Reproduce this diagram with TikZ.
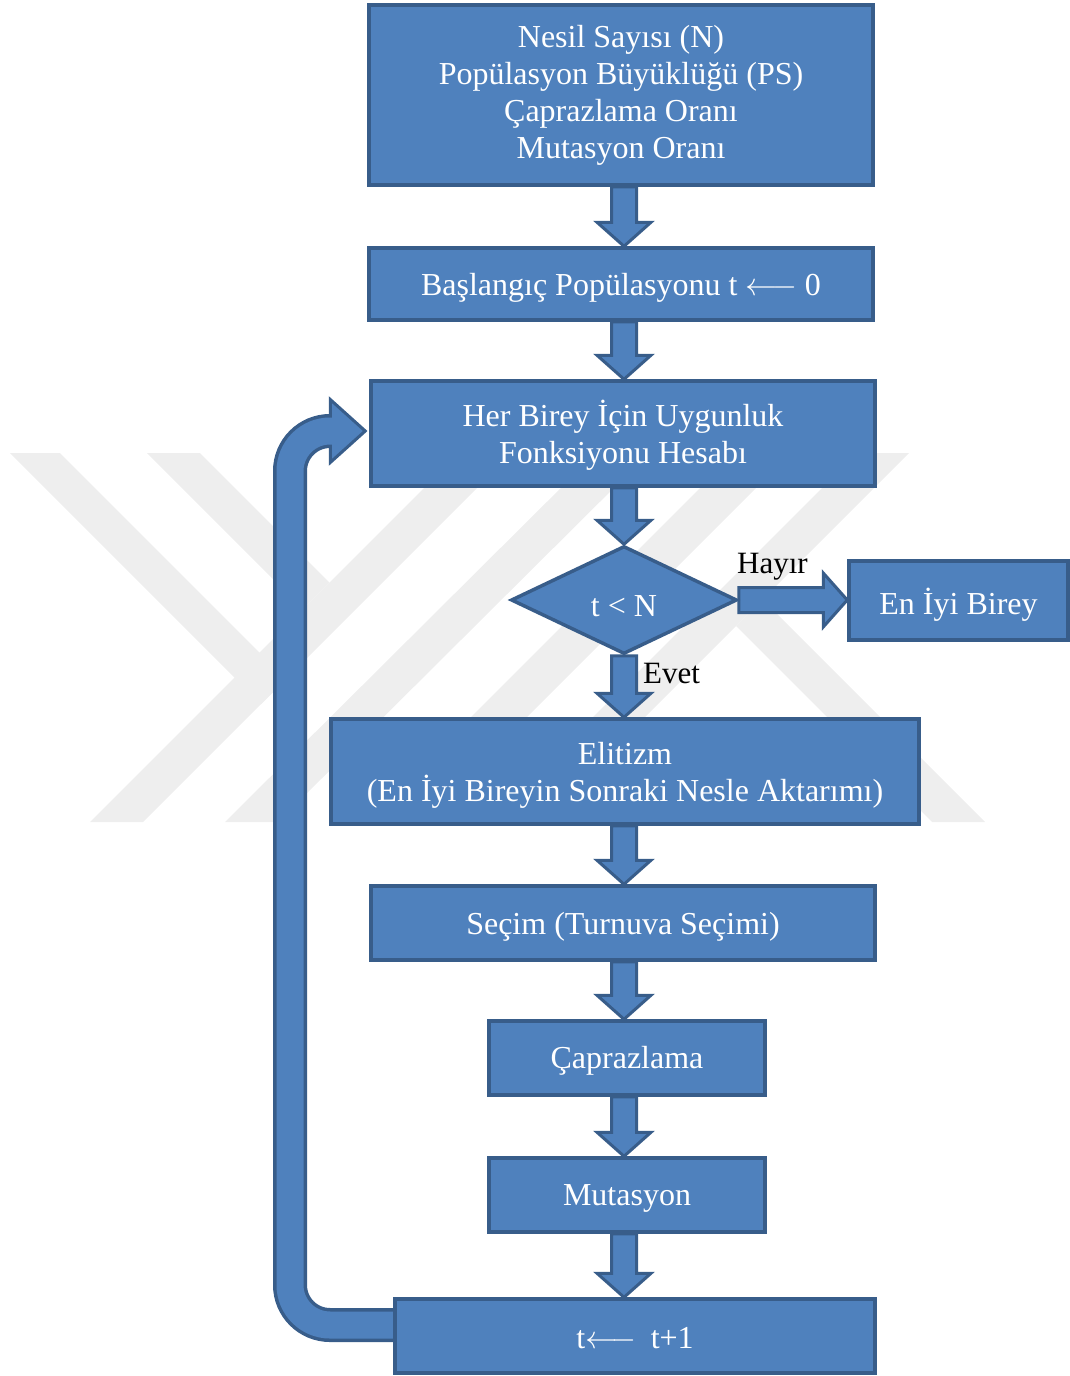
\RequirePackage{fix-cm}
\documentclass[tikz,border=0pt]{standalone}
\usepackage{fontspec}
\setmainfont{Liberation Serif}
\usetikzlibrary{shapes.geometric,calc}
\definecolor{boxfill}{RGB}{79,129,189}
\definecolor{boxline}{RGB}{56,93,138}
\definecolor{wmgray}{RGB}{238,238,238}
\pgfdeclarelayer{wm}
\pgfdeclarelayer{bg}
\pgfsetlayers{wm,bg,main}
\newcommand\dn[2][4pt]{\raisebox{-#1}[\height][\depth]{#2}}
\newcommand\downblk[2]{%
  \draw[blk] let \p1=(#1), \p2=(#2), \p3=(col) in
    (\x3-12.5pt,\y1) -- (\x3-12.5pt,\y2+24pt) -- (\x3-27pt,\y2+24pt) -- (\x3,\y2)
    -- (\x3+27pt,\y2+24pt) -- (\x3+12.5pt,\y2+24pt) -- (\x3+12.5pt,\y1) -- cycle;}
\begin{document}
\begin{tikzpicture}[x=1pt,y=-1pt,
  box/.style={draw=boxline, fill=boxfill, line width=3.5pt, text=white,
    font=\fontsize{32}{37}\selectfont, align=center, inner sep=0pt},
  dia/.style={diamond, draw=boxline, fill=boxfill, line width=3.5pt, text=white,
    font=\fontsize{32}{37}\selectfont, inner sep=0pt,
    minimum width=226pt, minimum height=108pt},
  blk/.style={draw=boxline, fill=boxfill, line width=3pt, line join=miter},
  lbl/.style={font=\fontsize{31}{36}\selectfont, text=black, inner sep=0pt},
  wmband/.style={fill=wmgray, draw=none}
]
\useasboundingbox (0,0) rectangle (1069,1376);

% watermark
\begin{pgfonlayer}{wm}
  \fill[wmband] (10,453) -- (60,453) -- (286,679) -- (261,704) -- cycle;
  \fill[wmband] (90,822) -- (143,822) -- (512,453) -- (459,453) -- cycle;
  \fill[wmband] (147,453) -- (200,453) -- (329.5,582.5) -- (303,609) -- cycle;
  \fill[wmband] (225,822) -- (278,822) -- (649,453) -- (596,453) -- cycle;
  \fill[wmband] (735,453) -- (791,453) -- (422,822) -- (366,822) -- cycle;
  \fill[wmband] (857,453) -- (909,453) -- (540,822) -- (488,822) -- cycle;
  \fill[wmband] (736,626) -- (762.5,599.5) -- (985,822) -- (932,822) -- cycle;
\end{pgfonlayer}

% nodes
\node[box, minimum width=504pt, minimum height=180pt] (par) at (621,95)
  {Nesil Sayısı (N)\\Popülasyon Büyüklüğü (PS)\\Çaprazlama Oranı\\Mutasyon Oranı};
\node[box, minimum width=504pt, minimum height=72pt] (init) at (621,284)
  {\dn{Başlangıç Popülasyonu t $\longleftarrow$ 0}};
\node[box, minimum width=504pt, minimum height=105pt] (fit) at (623,433.5)
  {\dn[2pt]{Her Birey İçin Uygunluk}\\\dn[2pt]{Fonksiyonu Hesabı}};
\node[dia] (cond) at (624,600) {\dn[6pt]{t < N}};
\node[box, minimum width=219pt, minimum height=79pt] (best) at (958.5,600.5)
  {\dn{En İyi Birey}};
\node[box, minimum width=588pt, minimum height=105pt] (elit) at (625,771.5)
  {\dn{Elitizm}\\\dn{(En İyi Bireyin Sonraki Nesle Aktarımı)}};
\node[box, minimum width=504pt, minimum height=74pt] (sel) at (623,923)
  {\dn{Seçim (Turnuva Seçimi)}};
\node[box, minimum width=276pt, minimum height=74pt] (cross) at (627,1058)
  {\dn[3pt]{Çaprazlama}};
\node[box, minimum width=276pt, minimum height=74pt] (mut) at (627,1195)
  {\dn[3pt]{Mutasyon}};
\node[box, minimum width=480pt, minimum height=74pt] (inc) at (635,1336)
  {\dn[2pt]{t$\longleftarrow$\hspace{14pt}t+1}};

\node[lbl, anchor=base west] (hayir) at (737,573) {Hayır};
\node[lbl, anchor=base west] (evet) at (643,683) {Evet};

\coordinate (col) at (624,0);

% connectors
\begin{pgfonlayer}{bg}
  \downblk{par.south}{init.north}
  \downblk{init.south}{fit.north}
  \downblk{fit.south}{cond.north}
  \downblk{cond.south}{elit.north}
  \downblk{elit.south}{sel.north}
  \downblk{sel.south}{cross.north}
  \downblk{cross.south}{mut.north}
  \downblk{mut.south}{inc.north}
  % right arrow to best
  \draw[blk] let \p1=(cond.east), \p2=(best.west) in
    (\x1,\y1-12.5pt) -- (\x2-24pt,\y1-12.5pt) -- (\x2-24pt,\y1-27pt) -- (\x2,\y1)
    -- (\x2-24pt,\y1+27pt) -- (\x2-24pt,\y1+12.5pt) -- (\x1,\y1+12.5pt) -- cycle;
  % loop arrow
  \coordinate (ls) at ($(inc.west)+(6,-11)$);
  \coordinate (lc) at (290,0);
  \coordinate (lh) at ($(fit.west)+(-39,-2.5)$);
  \coordinate (lt) at ($(fit.west)+(-4,-2.5)$);
  \draw[boxline, line width=34pt, rounded corners=40pt]
    (ls) -- (ls -| lc) -- (lc |- lh) -- (lh);
  \draw[blk] ($(lh)+(0,-31.5)$) -- (lt) -- ($(lh)+(0,31.5)$) -- cycle;
  \draw[boxfill, line width=27pt, rounded corners=40pt]
    (ls) -- (ls -| lc) -- (lc |- lh) -- ($(lh)+(4,0)$);
\end{pgfonlayer}
\end{tikzpicture}
\end{document}
